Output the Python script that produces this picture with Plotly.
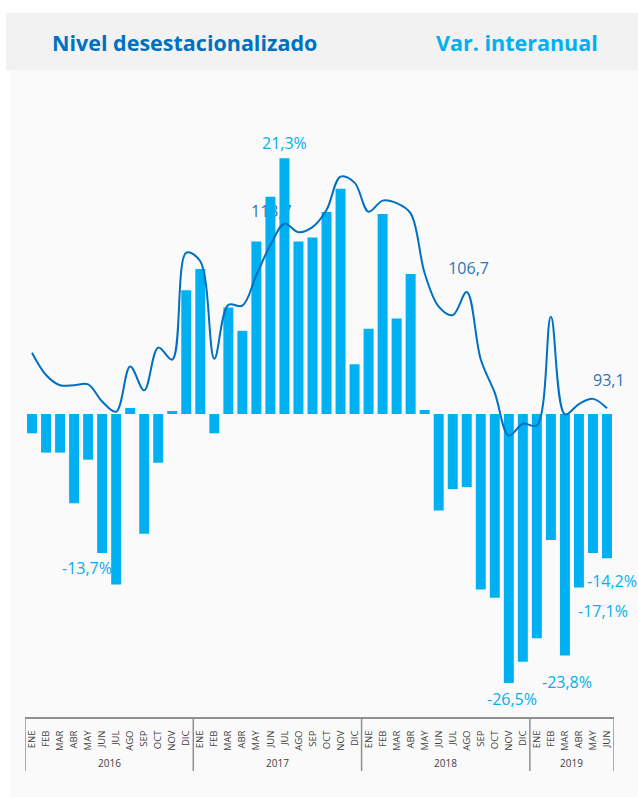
import plotly.graph_objects as go

# ---------------- data ----------------
years = ["2016"] * 12 + ["2017"] * 12 + ["2018"] * 12 + ["2019"] * 6
months = (["ENE", "FEB", "MAR", "ABR", "MAY", "JUN", "JUL", "AGO", "SEP", "OCT", "NOV", "DIC"] * 3
          + ["ENE", "FEB", "MAR", "ABR", "MAY", "JUN"])

# Var. interanual (%)
var_interanual = [
    -1.9, -3.8, -3.8, -8.8, -4.5, -13.7, -16.8, 0.6, -11.8, -4.8, 0.3, 12.2,
    14.3, -1.9, 10.5, 8.2, 17.0, 21.4, 25.2, 17.0, 17.4, 19.9, 22.2, 4.9,
    8.4, 19.7, 9.4, 13.8, 0.4, -9.5, -7.4, -7.2, -17.3, -18.1, -26.5, -24.4,
    -22.1, -12.4, -23.8, -17.1, -13.7, -14.2,
]

# Nivel desestacionalizado
nivel = [
    99.6, 97.0, 95.8, 95.8, 95.9, 93.9, 92.7, 98.0, 95.2, 100.2, 98.8, 111.3,
    110.3, 98.9, 105.2, 105.1, 108.7, 112.2, 114.7, 113.7, 114.3, 116.3, 120.2, 119.5,
    116.1, 117.4, 117.1, 115.9, 108.9, 105.0, 104.0, 106.7, 98.8, 94.9, 89.9, 91.3,
    91.1, 103.8, 92.4, 93.6, 94.2, 93.1,
]

# labels shown on the chart
var_labels = ["21,3%", "-13,7%", "-26,5%", "-23,8%", "-17,1%", "-14,2%"]
var_label_x = [17.97, 3.92, 34.2, 38.14, 40.68, 41.35]
var_label_y = [26.7, -15.17, -28.08, -26.37, -19.38, -16.42]

nivel_labels = ["113,7", "106,7", "93,1"]
nivel_label_x = [17.07, 31.13, 41.13]
nivel_label_y = [115.9, 109.3, 96.2]

title_left = "Nivel desestacionalizado"
title_right = "Var. interanual"

# ---------------- styling ----------------
BAR = "#00B0F0"
LINE = "#0070C0"
LINE_LBL = "#2E75B6"
AX = "#8F8F8F"
TXT = "#404040"
FONT = "Open Sans"

W, H = 638, 797
ML, MR, MT, MB = 25, 24, 100, 80
PW, PH = W - ML - MR, H - MT - MB


def px(x):
    return (x - ML) / PW


def py(y):
    return (H - MB - y) / PH


x_idx = list(range(len(months)))

fig = go.Figure()

# base subplot: line labels (drawn beneath the bars)
fig.add_trace(go.Scatter(
    x=nivel_label_x, y=nivel_label_y, mode="text", text=nivel_labels,
    textfont=dict(family=FONT, size=16, color=LINE_LBL),
    textposition="middle center", cliponaxis=False, hoverinfo="skip",
    showlegend=False, xaxis="x", yaxis="y",
))

# bars
fig.add_trace(go.Bar(
    x=x_idx, y=var_interanual, marker=dict(color=BAR, line=dict(width=0)),
    showlegend=False, xaxis="x", yaxis="y2",
))

# line
fig.add_trace(go.Scatter(
    x=x_idx, y=nivel, mode="lines",
    line=dict(color=LINE, width=2, shape="spline", smoothing=1),
    showlegend=False, xaxis="x", yaxis="y3",
))

line_range = [56.98, 129.17]
bar_range = [-29.85, 30.94]

# year groups
groups = []
for i, yv in enumerate(years):
    if not groups or groups[-1][0] != yv:
        groups.append([yv, i, i])
    else:
        groups[-1][2] = i

shapes = [
    # header band
    dict(type="rect", xref="paper", yref="paper", x0=px(6), x1=px(645), y0=py(70), y1=py(13),
         fillcolor="#F2F2F2", line=dict(width=0), layer="below"),
    # body background
    dict(type="rect", xref="paper", yref="paper", x0=px(10), x1=px(645), y0=py(805), y1=py(70),
         fillcolor="#FAFAFA", line=dict(width=0), layer="below"),
]
annotations = []
bounds = [groups[0][1] - 0.5] + [g[2] + 0.5 for g in groups]
for b in bounds:
    shapes.append(dict(type="line", xref="x", yref="paper", x0=b, x1=b, y0=0, y1=py(771),
                       line=dict(color=AX, width=1.5)))
for g in groups:
    annotations.append(dict(x=(g[1] + g[2]) / 2, y=py(763), xref="x", yref="paper",
                            text=g[0], showarrow=False,
                            font=dict(family=FONT, size=10, color=TXT),
                            xanchor="center", yanchor="middle"))

for t, xv, yv in zip(var_labels, var_label_x, var_label_y):
    annotations.append(dict(x=xv, y=yv, xref="x", yref="y2", text=t, showarrow=False,
                            font=dict(family=FONT, size=16, color=BAR),
                            xanchor="center", yanchor="middle"))

annotations.append(dict(x=px(184), y=py(42), xref="paper", yref="paper", text="<b>" + title_left + "</b>",
                        showarrow=False, font=dict(family=FONT, size=21.5, color=LINE),
                        xanchor="center", yanchor="middle"))
annotations.append(dict(x=px(517), y=py(42), xref="paper", yref="paper", text="<b>" + title_right + "</b>",
                        showarrow=False, font=dict(family=FONT, size=21.5, color=BAR),
                        xanchor="center", yanchor="middle"))

fig.update_layout(
    width=W, height=H,
    margin=dict(l=ML, r=MR, t=MT, b=MB, pad=0),
    paper_bgcolor="white", plot_bgcolor="rgba(0,0,0,0)",
    font=dict(family=FONT, color=TXT),
    bargap=0.29, showlegend=False,
    xaxis=dict(range=[-0.5, len(months) - 0.5], tickvals=x_idx, ticktext=months,
               tickangle=-90, ticks="", showgrid=False, zeroline=False,
               showline=True, linecolor=AX, linewidth=1.5,
               tickfont=dict(family=FONT, size=9.5, color=TXT),
               ticklabelstandoff=8, automargin=False, fixedrange=True),
    yaxis=dict(range=line_range, visible=False, fixedrange=True),
    yaxis2=dict(range=bar_range, visible=False, overlaying="y", fixedrange=True),
    yaxis3=dict(range=line_range, visible=False, overlaying="y", fixedrange=True),
    shapes=shapes, annotations=annotations,
)

fig.write_html(
    "out.html",
    config={"displayModeBar": False},
    post_script="document.body.style.margin='0';document.body.style.overflow='hidden';",
)
